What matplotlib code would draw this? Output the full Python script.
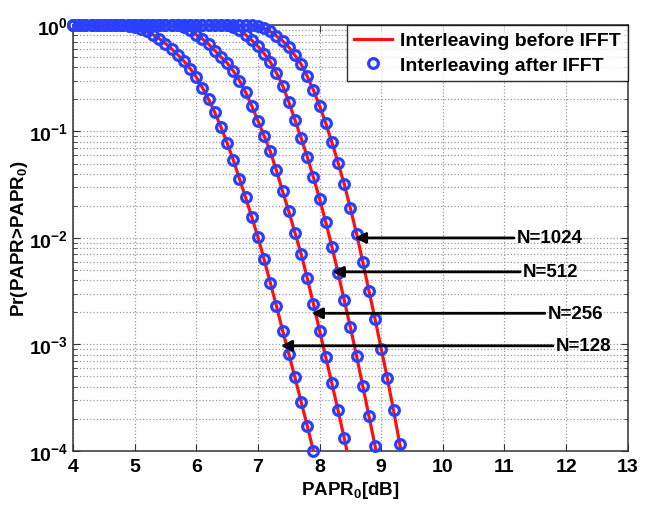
import matplotlib
matplotlib.use("Agg")
import matplotlib.pyplot as plt
import numpy as np

plt.rcParams['font.family'] = ['Liberation Sans', 'DejaVu Sans']
plt.rcParams['font.weight'] = 'bold'
plt.rcParams['mathtext.fontset'] = 'custom'
plt.rcParams['mathtext.rm'] = 'Liberation Sans:bold'
plt.rcParams['mathtext.bf'] = 'Liberation Sans:bold'
plt.rcParams['mathtext.it'] = 'Liberation Sans:bold'

# PAPR0 sample points (dB), one marker every 0.1 dB
papr_db = np.round(np.arange(4.0, 9.41, 0.1), 1)

# CCDF values
pr_128 = [1.0, 1.0, 1.0, 1.0, 1.0, 1.0, 1.0, 1.0,
          0.995, 0.985, 0.96, 0.92, 0.87, 0.81, 0.745, 0.67, 0.596, 0.525,
          0.457, 0.39, 0.324, 0.257, 0.20, 0.151, 0.11, 0.078, 0.054, 0.036,
          0.024, 0.0157, 0.0102, 0.0063, 0.0038, 0.0023, 0.00135, 0.00082,
          0.00049, 0.00029, 0.000172, 0.0001, 0.000056]
pr_256 = [1.0, 1.0, 1.0, 1.0, 1.0, 1.0, 1.0, 1.0, 1.0, 1.0,
          1.0, 1.0, 1.0, 1.0, 1.0, 1.0, 1.0,
          0.99, 0.96, 0.89, 0.81, 0.74, 0.66, 0.575, 0.50, 0.44, 0.37,
          0.30, 0.234, 0.174, 0.126, 0.091, 0.065, 0.043, 0.0275, 0.0178,
          0.0112, 0.0071, 0.0042, 0.0024, 0.00135, 0.00076, 0.00043,
          0.00024, 0.000132, 0.000071]
pr_512 = [1.0, 1.0, 1.0, 1.0, 1.0, 1.0, 1.0, 1.0, 1.0, 1.0,
          1.0, 1.0, 1.0, 1.0, 1.0, 1.0, 1.0, 1.0, 1.0, 1.0,
          1.0, 1.0, 1.0, 1.0, 1.0,
          0.99, 0.955, 0.89, 0.81, 0.72, 0.63, 0.54, 0.45, 0.355, 0.27,
          0.19, 0.129, 0.087, 0.058, 0.037, 0.0234, 0.0141, 0.0083, 0.0047,
          0.0026, 0.00145, 0.00078, 0.00041, 0.000214, 0.000112, 0.000056]
pr_1024 = [1.0, 1.0, 1.0, 1.0, 1.0, 1.0, 1.0, 1.0, 1.0, 1.0,
           1.0, 1.0, 1.0, 1.0, 1.0, 1.0, 1.0, 1.0, 1.0, 1.0,
           1.0, 1.0, 1.0, 1.0, 1.0, 1.0, 1.0, 1.0, 1.0, 1.0,
           0.98, 0.93, 0.87, 0.79, 0.71, 0.62, 0.52, 0.43, 0.33, 0.245,
           0.174, 0.12, 0.079, 0.051, 0.032, 0.019, 0.011, 0.006, 0.0032,
           0.00174, 0.00091, 0.00048, 0.00024, 0.000117, 0.000056]
curves = [pr_128, pr_256, pr_512, pr_1024]

# arrow labels: text, arrow head (x, y), text start x
n_labels = ['N=1024', 'N=512', 'N=256', 'N=128']
head_x = [8.57, 8.21, 7.87, 7.37]
head_y = [1.0e-2, 4.8e-3, 1.96e-3, 0.97e-3]
text_x = [11.2, 11.3, 11.7, 11.83]

red = '#ff1010'
blue = '#2a40ff'

fig = plt.figure(figsize=(6.58, 5.10), dpi=100)
ax = fig.add_axes([0.111, 0.114, 0.843, 0.835])

for i, pr in enumerate(curves):
    pr = np.array(pr)
    x = papr_db[:len(pr)]
    ax.semilogy(x, pr, color=red, lw=2.3, zorder=3,
                label='Interleaving before IFFT' if i == 0 else None)
    keep = pr >= 9e-5
    ax.semilogy(x[keep], pr[keep], 'o', mfc='none', mec=blue, ms=7, mew=2.3,
                clip_on=False, zorder=4,
                label='Interleaving after IFFT' if i == 0 else None)

for lab, hx, hy, tx in zip(n_labels, head_x, head_y, text_x):
    ax.annotate(lab, xy=(hx, hy), xytext=(tx, hy), va='center', ha='left',
                fontsize=13.5, fontweight='bold',
                arrowprops=dict(arrowstyle='-|>', color='k', lw=2,
                                mutation_scale=16, shrinkA=0, shrinkB=0),
                zorder=5)

ax.set_xlim(4, 13)
ax.set_ylim(1e-4, 1)
ax.set_xticks(range(4, 14))
ax.set_xticklabels([str(v) for v in range(4, 14)])
ax.set_yticks([1e-4, 1e-3, 1e-2, 1e-1, 1])
ax.set_yticklabels([r'$\mathbf{10^{-4}}$', r'$\mathbf{10^{-3}}$', r'$\mathbf{10^{-2}}$',
                    r'$\mathbf{10^{-1}}$', r'$\mathbf{10^{0}}$'])
ax.tick_params(axis='both', which='both', direction='in', top=True, right=True,
               labelsize=14, color='#333333')
ax.tick_params(which='major', length=5)
ax.tick_params(which='minor', length=3)
ax.tick_params(axis='x', which='minor', bottom=False, top=False)
ax.tick_params(axis='x', pad=5)
ax.grid(True, which='major', ls=':', color='#999999', lw=0.9)
ax.grid(True, which='minor', axis='y', ls=':', color='#999999', lw=0.9)
for s in ax.spines.values():
    s.set_color('#333333')
    s.set_linewidth(1.1)

ax.set_xlabel(r'PAPR$_0$[dB]', fontsize=13.5, fontweight='bold', labelpad=3)
ax.set_ylabel(r'Pr(PAPR>PAPR$_0$)', fontsize=13.5, fontweight='bold', labelpad=-1)

leg = ax.legend(loc='upper right', fontsize=14, frameon=True, fancybox=False,
                handlelength=2.0, borderpad=0.35, labelspacing=0.35,
                handletextpad=0.4, borderaxespad=0)
leg.get_frame().set_edgecolor('k')
leg.get_frame().set_linewidth(1.0)
leg.set_zorder(6)

fig.savefig('out.png', dpi=100)
